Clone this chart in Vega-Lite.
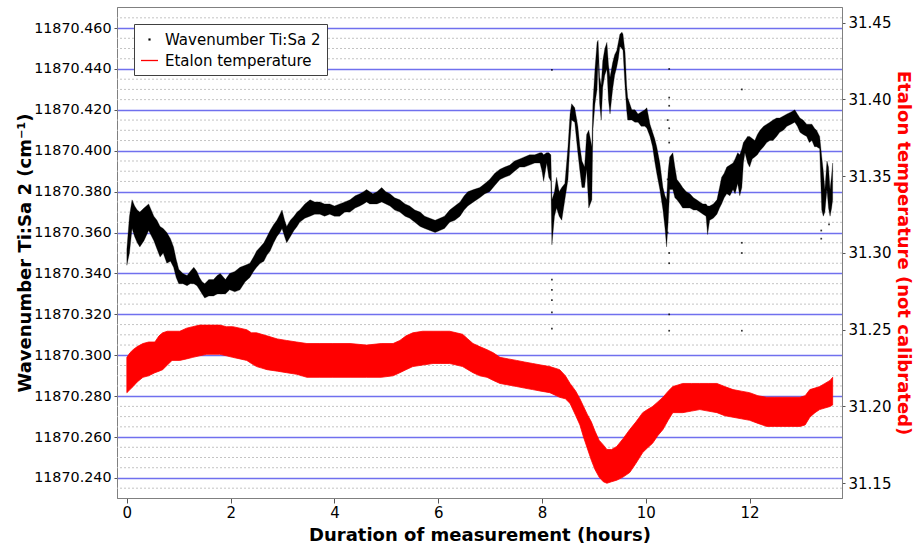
{
"$schema": "https://vega.github.io/schema/vega-lite/v6.json",
"width": 725, "height": 491,
"autosize": {"type": "none"},
"padding": {"left": 117, "top": 7, "right": 72, "bottom": 49},
"background": "white",
"config": {
  "font": "DejaVu Sans",
  "view": {"stroke": "#808080", "strokeWidth": 1},
  "axis": {"labelFontSize": 15, "labelColor": "#000000", "titleFontSize": 18, "titleFontWeight": "bold", "titleColor": "#000000", "domainColor": "#808080", "tickColor": "#555555", "grid": false}
},
"datasets": {
  "grid": [
    {"w": 11870.235}, {"w": 11870.245}, {"w": 11870.250}, {"w": 11870.255}, {"w": 11870.265}, {"w": 11870.270}, {"w": 11870.275},
    {"w": 11870.285}, {"w": 11870.290}, {"w": 11870.295}, {"w": 11870.305}, {"w": 11870.310}, {"w": 11870.315},
    {"w": 11870.325}, {"w": 11870.330}, {"w": 11870.335}, {"w": 11870.345}, {"w": 11870.350}, {"w": 11870.355},
    {"w": 11870.365}, {"w": 11870.370}, {"w": 11870.375}, {"w": 11870.385}, {"w": 11870.390}, {"w": 11870.395},
    {"w": 11870.405}, {"w": 11870.410}, {"w": 11870.415}, {"w": 11870.425}, {"w": 11870.430}, {"w": 11870.435},
    {"w": 11870.445}, {"w": 11870.450}, {"w": 11870.455}, {"w": 11870.465}
  ],
  "black": [
    {"t":0.00,"w":11870.344,"w2":11870.352},{"t":0.05,"w":11870.350,"w2":11870.368},{"t":0.10,"w":11870.362,"w2":11870.376},
    {"t":0.15,"w":11870.358,"w2":11870.373},{"t":0.20,"w":11870.355,"w2":11870.371},{"t":0.25,"w":11870.353,"w2":11870.370},
    {"t":0.33,"w":11870.356,"w2":11870.372},{"t":0.42,"w":11870.361,"w2":11870.374},{"t":0.52,"w":11870.356,"w2":11870.368},
    {"t":0.58,"w":11870.352,"w2":11870.366},{"t":0.64,"w":11870.348,"w2":11870.363},{"t":0.70,"w":11870.350,"w2":11870.362},
    {"t":0.77,"w":11870.345,"w2":11870.360},{"t":0.84,"w":11870.346,"w2":11870.357},{"t":0.90,"w":11870.343,"w2":11870.353},
    {"t":0.95,"w":11870.338,"w2":11870.347},{"t":1.00,"w":11870.335,"w2":11870.342},{"t":1.08,"w":11870.335,"w2":11870.340},
    {"t":1.16,"w":11870.334,"w2":11870.339},{"t":1.22,"w":11870.335,"w2":11870.341},{"t":1.29,"w":11870.335,"w2":11870.343},
    {"t":1.35,"w":11870.334,"w2":11870.341},{"t":1.40,"w":11870.332,"w2":11870.338},{"t":1.45,"w":11870.330,"w2":11870.336},
    {"t":1.50,"w":11870.328,"w2":11870.335},{"t":1.58,"w":11870.329,"w2":11870.337},{"t":1.67,"w":11870.329,"w2":11870.337},
    {"t":1.74,"w":11870.330,"w2":11870.339},{"t":1.80,"w":11870.330,"w2":11870.340},{"t":1.90,"w":11870.330,"w2":11870.337},
    {"t":1.98,"w":11870.332,"w2":11870.340},{"t":2.08,"w":11870.331,"w2":11870.341},{"t":2.18,"w":11870.332,"w2":11870.343},
    {"t":2.28,"w":11870.336,"w2":11870.344},{"t":2.37,"w":11870.338,"w2":11870.345},{"t":2.44,"w":11870.341,"w2":11870.348},
    {"t":2.50,"w":11870.343,"w2":11870.351},{"t":2.57,"w":11870.345,"w2":11870.353},{"t":2.64,"w":11870.346,"w2":11870.355},
    {"t":2.70,"w":11870.349,"w2":11870.358},{"t":2.76,"w":11870.351,"w2":11870.361},{"t":2.83,"w":11870.355,"w2":11870.364},
    {"t":2.89,"w":11870.358,"w2":11870.366},{"t":2.95,"w":11870.360,"w2":11870.369},{"t":2.99,"w":11870.362,"w2":11870.371},
    {"t":3.04,"w":11870.358,"w2":11870.366},{"t":3.08,"w":11870.355,"w2":11870.363},{"t":3.15,"w":11870.358,"w2":11870.366},
    {"t":3.22,"w":11870.361,"w2":11870.368},{"t":3.28,"w":11870.363,"w2":11870.370},{"t":3.33,"w":11870.365,"w2":11870.371},
    {"t":3.43,"w":11870.367,"w2":11870.374},{"t":3.53,"w":11870.368,"w2":11870.376},{"t":3.62,"w":11870.369,"w2":11870.375},
    {"t":3.72,"w":11870.369,"w2":11870.375},{"t":3.81,"w":11870.368,"w2":11870.374},{"t":3.91,"w":11870.369,"w2":11870.374},
    {"t":4.00,"w":11870.368,"w2":11870.373},{"t":4.10,"w":11870.368,"w2":11870.374},{"t":4.20,"w":11870.370,"w2":11870.375},
    {"t":4.30,"w":11870.370,"w2":11870.376},{"t":4.40,"w":11870.372,"w2":11870.378},{"t":4.49,"w":11870.373,"w2":11870.379},
    {"t":4.56,"w":11870.374,"w2":11870.380},{"t":4.62,"w":11870.375,"w2":11870.381},{"t":4.68,"w":11870.374,"w2":11870.380},
    {"t":4.74,"w":11870.374,"w2":11870.379},{"t":4.82,"w":11870.374,"w2":11870.380},{"t":4.91,"w":11870.375,"w2":11870.382},
    {"t":4.99,"w":11870.374,"w2":11870.380},{"t":5.07,"w":11870.373,"w2":11870.379},{"t":5.16,"w":11870.371,"w2":11870.377},
    {"t":5.26,"w":11870.370,"w2":11870.376},{"t":5.36,"w":11870.368,"w2":11870.374},{"t":5.45,"w":11870.367,"w2":11870.373},
    {"t":5.55,"w":11870.365,"w2":11870.371},{"t":5.65,"w":11870.363,"w2":11870.370},{"t":5.74,"w":11870.362,"w2":11870.368},
    {"t":5.84,"w":11870.361,"w2":11870.367},{"t":5.94,"w":11870.360,"w2":11870.366},{"t":6.03,"w":11870.361,"w2":11870.367},
    {"t":6.12,"w":11870.362,"w2":11870.368},{"t":6.22,"w":11870.365,"w2":11870.371},{"t":6.32,"w":11870.366,"w2":11870.373},
    {"t":6.42,"w":11870.368,"w2":11870.375},{"t":6.50,"w":11870.371,"w2":11870.378},{"t":6.57,"w":11870.373,"w2":11870.380},
    {"t":6.68,"w":11870.375,"w2":11870.381},{"t":6.80,"w":11870.377,"w2":11870.382},{"t":6.90,"w":11870.379,"w2":11870.384},
    {"t":6.99,"w":11870.380,"w2":11870.386},{"t":7.09,"w":11870.383,"w2":11870.389},{"t":7.19,"w":11870.386,"w2":11870.391},
    {"t":7.28,"w":11870.387,"w2":11870.392},{"t":7.38,"w":11870.388,"w2":11870.393},{"t":7.47,"w":11870.390,"w2":11870.395},
    {"t":7.57,"w":11870.392,"w2":11870.396},{"t":7.66,"w":11870.392,"w2":11870.397},{"t":7.76,"w":11870.393,"w2":11870.398},
    {"t":7.86,"w":11870.394,"w2":11870.398},{"t":7.96,"w":11870.394,"w2":11870.399},{"t":8.00,"w":11870.390,"w2":11870.399},
    {"t":8.03,"w":11870.385,"w2":11870.398},{"t":8.09,"w":11870.394,"w2":11870.399},{"t":8.13,"w":11870.387,"w2":11870.399},
    {"t":8.17,"w":11870.385,"w2":11870.398},{"t":8.19,"w":11870.354,"w2":11870.376},{"t":8.24,"w":11870.368,"w2":11870.380},
    {"t":8.28,"w":11870.372,"w2":11870.387},{"t":8.33,"w":11870.368,"w2":11870.380},{"t":8.38,"w":11870.366,"w2":11870.382},
    {"t":8.44,"w":11870.376,"w2":11870.384},{"t":8.50,"w":11870.386,"w2":11870.402},{"t":8.54,"w":11870.405,"w2":11870.418},
    {"t":8.57,"w":11870.415,"w2":11870.423},{"t":8.63,"w":11870.414,"w2":11870.421},{"t":8.69,"w":11870.399,"w2":11870.412},
    {"t":8.73,"w":11870.390,"w2":11870.402},{"t":8.77,"w":11870.382,"w2":11870.395},{"t":8.82,"w":11870.382,"w2":11870.392},
    {"t":8.86,"w":11870.391,"w2":11870.408},{"t":8.90,"w":11870.372,"w2":11870.410},{"t":8.96,"w":11870.376,"w2":11870.402},
    {"t":8.98,"w":11870.410,"w2":11870.423},{"t":9.02,"w":11870.423,"w2":11870.440},{"t":9.06,"w":11870.430,"w2":11870.453},
    {"t":9.08,"w":11870.444,"w2":11870.454},{"t":9.11,"w":11870.423,"w2":11870.436},{"t":9.14,"w":11870.415,"w2":11870.432},
    {"t":9.17,"w":11870.431,"w2":11870.444},{"t":9.21,"w":11870.437,"w2":11870.450},{"t":9.25,"w":11870.440,"w2":11870.453},
    {"t":9.28,"w":11870.425,"w2":11870.442},{"t":9.31,"w":11870.418,"w2":11870.436},{"t":9.36,"w":11870.430,"w2":11870.443},
    {"t":9.40,"w":11870.437,"w2":11870.447},{"t":9.44,"w":11870.441,"w2":11870.449},{"t":9.47,"w":11870.445,"w2":11870.453},
    {"t":9.50,"w":11870.451,"w2":11870.457},{"t":9.54,"w":11870.450,"w2":11870.458},{"t":9.56,"w":11870.449,"w2":11870.457},
    {"t":9.60,"w":11870.431,"w2":11870.448},{"t":9.63,"w":11870.420,"w2":11870.432},{"t":9.65,"w":11870.415,"w2":11870.426},
    {"t":9.73,"w":11870.415,"w2":11870.420},{"t":9.79,"w":11870.414,"w2":11870.420},{"t":9.85,"w":11870.414,"w2":11870.418},
    {"t":9.91,"w":11870.412,"w2":11870.419},{"t":9.98,"w":11870.412,"w2":11870.420},{"t":10.02,"w":11870.411,"w2":11870.421},
    {"t":10.08,"w":11870.407,"w2":11870.413},{"t":10.13,"w":11870.402,"w2":11870.409},{"t":10.17,"w":11870.395,"w2":11870.406},
    {"t":10.21,"w":11870.389,"w2":11870.402},{"t":10.27,"w":11870.381,"w2":11870.394},{"t":10.33,"w":11870.371,"w2":11870.382},
    {"t":10.37,"w":11870.362,"w2":11870.378},{"t":10.40,"w":11870.353,"w2":11870.376},{"t":10.43,"w":11870.365,"w2":11870.390},
    {"t":10.46,"w":11870.381,"w2":11870.397},{"t":10.52,"w":11870.381,"w2":11870.399},{"t":10.56,"w":11870.377,"w2":11870.392},
    {"t":10.60,"w":11870.376,"w2":11870.386},{"t":10.66,"w":11870.374,"w2":11870.384},{"t":10.71,"w":11870.372,"w2":11870.382},
    {"t":10.78,"w":11870.372,"w2":11870.380},{"t":10.85,"w":11870.372,"w2":11870.379},{"t":10.92,"w":11870.371,"w2":11870.377},
    {"t":10.98,"w":11870.371,"w2":11870.376},{"t":11.04,"w":11870.370,"w2":11870.375},{"t":11.10,"w":11870.369,"w2":11870.374},
    {"t":11.16,"w":11870.368,"w2":11870.374},{"t":11.19,"w":11870.359,"w2":11870.373},{"t":11.23,"w":11870.366,"w2":11870.373},
    {"t":11.30,"w":11870.367,"w2":11870.374},{"t":11.37,"w":11870.369,"w2":11870.376},{"t":11.42,"w":11870.372,"w2":11870.382},
    {"t":11.46,"w":11870.374,"w2":11870.387},{"t":11.51,"w":11870.377,"w2":11870.389},{"t":11.56,"w":11870.379,"w2":11870.392},
    {"t":11.62,"w":11870.378,"w2":11870.393},{"t":11.68,"w":11870.381,"w2":11870.394},{"t":11.72,"w":11870.379,"w2":11870.396},
    {"t":11.77,"w":11870.384,"w2":11870.399},{"t":11.81,"w":11870.378,"w2":11870.398},{"t":11.85,"w":11870.382,"w2":11870.401},
    {"t":11.88,"w":11870.394,"w2":11870.404},{"t":11.91,"w":11870.399,"w2":11870.405},{"t":11.96,"w":11870.394,"w2":11870.407},
    {"t":12.00,"w":11870.392,"w2":11870.407},{"t":12.05,"w":11870.396,"w2":11870.406},{"t":12.10,"w":11870.397,"w2":11870.405},
    {"t":12.15,"w":11870.398,"w2":11870.408},{"t":12.20,"w":11870.400,"w2":11870.410},{"t":12.27,"w":11870.402,"w2":11870.412},
    {"t":12.33,"w":11870.404,"w2":11870.413},{"t":12.39,"w":11870.405,"w2":11870.414},{"t":12.45,"w":11870.405,"w2":11870.415},
    {"t":12.52,"w":11870.407,"w2":11870.416},{"t":12.58,"w":11870.409,"w2":11870.416},{"t":12.65,"w":11870.410,"w2":11870.417},
    {"t":12.72,"w":11870.412,"w2":11870.418},{"t":12.80,"w":11870.413,"w2":11870.419},{"t":12.87,"w":11870.414,"w2":11870.420},
    {"t":12.92,"w":11870.412,"w2":11870.418},{"t":12.97,"w":11870.409,"w2":11870.416},{"t":13.03,"w":11870.408,"w2":11870.415},
    {"t":13.10,"w":11870.407,"w2":11870.413},{"t":13.15,"w":11870.404,"w2":11870.413},{"t":13.20,"w":11870.405,"w2":11870.413},
    {"t":13.25,"w":11870.402,"w2":11870.411},{"t":13.29,"w":11870.402,"w2":11870.410},{"t":13.35,"w":11870.401,"w2":11870.407},
    {"t":13.39,"w":11870.371,"w2":11870.397},{"t":13.42,"w":11870.368,"w2":11870.390},{"t":13.45,"w":11870.370,"w2":11870.381},
    {"t":13.49,"w":11870.381,"w2":11870.395},{"t":13.52,"w":11870.372,"w2":11870.392},{"t":13.55,"w":11870.368,"w2":11870.381},
    {"t":13.58,"w":11870.372,"w2":11870.388},{"t":13.60,"w":11870.376,"w2":11870.394}
  ],
  "outliers": [
    {"t":8.19,"w":11870.4395},{"t":8.19,"w":11870.337},{"t":8.19,"w":11870.332},{"t":8.19,"w":11870.327},{"t":8.19,"w":11870.321},{"t":8.19,"w":11870.313},
    {"t":10.45,"w":11870.440},{"t":10.45,"w":11870.426},{"t":10.45,"w":11870.422},{"t":10.45,"w":11870.411},{"t":10.45,"w":11870.404},{"t":10.45,"w":11870.350},{"t":10.45,"w":11870.345},{"t":10.45,"w":11870.320},{"t":10.45,"w":11870.312},
    {"t":10.42,"w":11870.415},{"t":10.42,"w":11870.386},{"t":10.42,"w":11870.360},
    {"t":11.85,"w":11870.430},{"t":11.85,"w":11870.355},{"t":11.85,"w":11870.350},{"t":11.85,"w":11870.312},
    {"t":13.38,"w":11870.361},{"t":13.38,"w":11870.357},{"t":13.53,"w":11870.364}
  ],
  "red": [
    {"t":0.00,"r":31.209,"r2":31.232},{"t":0.06,"r":31.211,"r2":31.235},{"t":0.12,"r":31.213,"r2":31.237},{"t":0.20,"r":31.216,"r2":31.239},
    {"t":0.31,"r":31.219,"r2":31.241},{"t":0.42,"r":31.220,"r2":31.242},{"t":0.54,"r":31.222,"r2":31.242},{"t":0.62,"r":31.223,"r2":31.246},
    {"t":0.69,"r":31.224,"r2":31.248},{"t":0.78,"r":31.227,"r2":31.249},{"t":0.87,"r":31.230,"r2":31.249},{"t":1.02,"r":31.230,"r2":31.249},
    {"t":1.15,"r":31.231,"r2":31.251},{"t":1.27,"r":31.232,"r2":31.252},{"t":1.40,"r":31.233,"r2":31.253},{"t":1.54,"r":31.234,"r2":31.253},
    {"t":1.66,"r":31.234,"r2":31.253},{"t":1.79,"r":31.234,"r2":31.253},{"t":1.92,"r":31.233,"r2":31.252},{"t":2.04,"r":31.232,"r2":31.252},
    {"t":2.18,"r":31.231,"r2":31.251},{"t":2.31,"r":31.230,"r2":31.250},{"t":2.40,"r":31.228,"r2":31.248},{"t":2.50,"r":31.226,"r2":31.248},
    {"t":2.60,"r":31.225,"r2":31.247},{"t":2.70,"r":31.224,"r2":31.246},{"t":2.90,"r":31.223,"r2":31.244},{"t":3.08,"r":31.222,"r2":31.243},
    {"t":3.27,"r":31.221,"r2":31.242},{"t":3.47,"r":31.219,"r2":31.241},{"t":3.72,"r":31.219,"r2":31.241},{"t":3.97,"r":31.219,"r2":31.241},
    {"t":4.30,"r":31.219,"r2":31.241},{"t":4.62,"r":31.219,"r2":31.240},{"t":4.90,"r":31.219,"r2":31.241},{"t":5.13,"r":31.220,"r2":31.241},
    {"t":5.26,"r":31.222,"r2":31.243},{"t":5.38,"r":31.224,"r2":31.246},{"t":5.51,"r":31.226,"r2":31.248},{"t":5.70,"r":31.227,"r2":31.249},
    {"t":5.90,"r":31.228,"r2":31.249},{"t":6.05,"r":31.228,"r2":31.249},{"t":6.22,"r":31.228,"r2":31.249},{"t":6.35,"r":31.227,"r2":31.248},
    {"t":6.47,"r":31.226,"r2":31.247},{"t":6.57,"r":31.224,"r2":31.244},{"t":6.67,"r":31.222,"r2":31.241},{"t":6.80,"r":31.220,"r2":31.239},
    {"t":6.94,"r":31.219,"r2":31.237},{"t":7.06,"r":31.217,"r2":31.235},{"t":7.19,"r":31.215,"r2":31.232},{"t":7.35,"r":31.214,"r2":31.231},
    {"t":7.51,"r":31.213,"r2":31.230},{"t":7.66,"r":31.212,"r2":31.229},{"t":7.82,"r":31.211,"r2":31.228},{"t":7.98,"r":31.210,"r2":31.227},
    {"t":8.15,"r":31.209,"r2":31.226},{"t":8.34,"r":31.206,"r2":31.224},{"t":8.45,"r":31.205,"r2":31.220},{"t":8.54,"r":31.202,"r2":31.215},
    {"t":8.65,"r":31.194,"r2":31.210},{"t":8.73,"r":31.188,"r2":31.205},{"t":8.80,"r":31.180,"r2":31.200},{"t":8.87,"r":31.173,"r2":31.195},
    {"t":8.95,"r":31.165,"r2":31.190},{"t":9.02,"r":31.159,"r2":31.184},{"t":9.10,"r":31.154,"r2":31.178},{"t":9.18,"r":31.151,"r2":31.175},
    {"t":9.25,"r":31.150,"r2":31.172},{"t":9.34,"r":31.151,"r2":31.172},{"t":9.44,"r":31.152,"r2":31.174},{"t":9.56,"r":31.154,"r2":31.179},
    {"t":9.69,"r":31.157,"r2":31.185},{"t":9.81,"r":31.163,"r2":31.190},{"t":9.94,"r":31.170,"r2":31.196},{"t":10.03,"r":31.173,"r2":31.198},
    {"t":10.13,"r":31.176,"r2":31.200},{"t":10.23,"r":31.181,"r2":31.203},{"t":10.33,"r":31.185,"r2":31.206},{"t":10.43,"r":31.191,"r2":31.210},
    {"t":10.52,"r":31.196,"r2":31.213},{"t":10.62,"r":31.196,"r2":31.214},{"t":10.71,"r":31.196,"r2":31.215},{"t":10.88,"r":31.197,"r2":31.215},
    {"t":11.04,"r":31.198,"r2":31.215},{"t":11.20,"r":31.197,"r2":31.215},{"t":11.37,"r":31.196,"r2":31.215},{"t":11.52,"r":31.194,"r2":31.213},
    {"t":11.68,"r":31.193,"r2":31.211},{"t":11.84,"r":31.192,"r2":31.210},{"t":12.00,"r":31.191,"r2":31.209},{"t":12.16,"r":31.189,"r2":31.207},
    {"t":12.33,"r":31.187,"r2":31.206},{"t":12.48,"r":31.187,"r2":31.206},{"t":12.64,"r":31.187,"r2":31.206},{"t":12.80,"r":31.187,"r2":31.206},
    {"t":12.97,"r":31.187,"r2":31.206},{"t":13.07,"r":31.188,"r2":31.207},{"t":13.16,"r":31.193,"r2":31.211},{"t":13.26,"r":31.196,"r2":31.212},
    {"t":13.35,"r":31.198,"r2":31.213},{"t":13.45,"r":31.199,"r2":31.215},{"t":13.55,"r":31.200,"r2":31.217},{"t":13.60,"r":31.201,"r2":31.219}
  ],
  "legend": [
    {"series": "Wavenumber Ti:Sa 2", "t": 0, "w": 11870.3},
    {"series": "Etalon temperature", "t": 0, "w": 11870.3}
  ]
},
"layer": [
  {
    "layer": [
      {
        "data": {"name": "grid"},
        "mark": {"type": "rule", "color": "#c4c4c4", "strokeWidth": 1, "strokeDash": [2, 2]},
        "encoding": {
          "y": {"field": "w", "type": "quantitative",
                "scale": {"domain": [11870.2302, 11870.4703], "nice": false, "zero": false},
                "axis": {"title": "Wavenumber Ti:Sa 2 (cm⁻¹)", "grid": true, "gridColor": "#7070ee", "gridWidth": 1.3,
                         "values": [11870.24, 11870.26, 11870.28, 11870.30, 11870.32, 11870.34, 11870.36, 11870.38, 11870.40, 11870.42, 11870.44, 11870.46],
                         "format": ".3f", "tickSize": 3, "labelPadding": 3, "labelFontSize": 14.3, "titlePadding": -1}}
        }
      },
      {
        "data": {"name": "black"},
        "mark": {"type": "area", "color": "#000000", "stroke": "#000000", "strokeWidth": 0.3},
        "encoding": {
          "x": {"field": "t", "type": "quantitative",
                "scale": {"domain": [-0.19, 13.78], "nice": false, "zero": false},
                "axis": {"title": "Duration of measurement (hours)", "values": [0, 2, 4, 6, 8, 10, 12], "tickSize": 5, "labelPadding": 2, "titlePadding": 6}},
          "y": {"field": "w", "type": "quantitative",
                "scale": {"domain": [11870.2302, 11870.4703], "nice": false, "zero": false},
                "axis": {"title": "Wavenumber Ti:Sa 2 (cm⁻¹)", "grid": true, "gridColor": "#7070ee", "gridWidth": 1.3,
                         "values": [11870.24, 11870.26, 11870.28, 11870.30, 11870.32, 11870.34, 11870.36, 11870.38, 11870.40, 11870.42, 11870.44, 11870.46],
                         "format": ".3f", "tickSize": 3, "labelPadding": 3, "labelFontSize": 14.3, "titlePadding": -1}},
          "y2": {"field": "w2"}
        }
      },
      {
        "data": {"name": "outliers"},
        "mark": {"type": "square", "color": "#000000", "size": 3, "opacity": 0.8},
        "encoding": {
          "x": {"field": "t", "type": "quantitative",
                "scale": {"domain": [-0.19, 13.78], "nice": false, "zero": false},
                "axis": {"title": "Duration of measurement (hours)", "values": [0, 2, 4, 6, 8, 10, 12], "tickSize": 5, "labelPadding": 2, "titlePadding": 6}},
          "y": {"field": "w", "type": "quantitative",
                "scale": {"domain": [11870.2302, 11870.4703], "nice": false, "zero": false},
                "axis": {"title": "Wavenumber Ti:Sa 2 (cm⁻¹)", "grid": true, "gridColor": "#7070ee", "gridWidth": 1.3,
                         "values": [11870.24, 11870.26, 11870.28, 11870.30, 11870.32, 11870.34, 11870.36, 11870.38, 11870.40, 11870.42, 11870.44, 11870.46],
                         "format": ".3f", "tickSize": 3, "labelPadding": 3, "labelFontSize": 14.3, "titlePadding": -1}}
        }
      },
      {
        "data": {"name": "legend"},
        "mark": {"type": "point", "filled": false, "opacity": 0},
        "encoding": {
          "x": {"field": "t", "type": "quantitative",
                "scale": {"domain": [-0.19, 13.78], "nice": false, "zero": false},
                "axis": {"title": "Duration of measurement (hours)", "values": [0, 2, 4, 6, 8, 10, 12], "tickSize": 5, "labelPadding": 2, "titlePadding": 6}},
          "y": {"field": "w", "type": "quantitative",
                "scale": {"domain": [11870.2302, 11870.4703], "nice": false, "zero": false},
                "axis": {"title": "Wavenumber Ti:Sa 2 (cm⁻¹)", "grid": true, "gridColor": "#7070ee", "gridWidth": 1.3,
                         "values": [11870.24, 11870.26, 11870.28, 11870.30, 11870.32, 11870.34, 11870.36, 11870.38, 11870.40, 11870.42, 11870.44, 11870.46],
                         "format": ".3f", "tickSize": 3, "labelPadding": 3, "labelFontSize": 14.3, "titlePadding": -1}},
          "color": {"field": "series", "type": "nominal",
                    "scale": {"domain": ["Wavenumber Ti:Sa 2", "Etalon temperature"], "range": ["#000000", "#ff0000"]},
                    "legend": {"title": null, "orient": "none", "legendX": 17, "legendY": 17, "strokeColor": "#404040", "fillColor": "#ffffff",
                               "padding": 6, "labelFontSize": 15, "labelColor": "#000000", "symbolSize": 289, "symbolStrokeWidth": 1.3,
                               "symbolOpacity": 1, "rowPadding": 3, "labelOffset": 6}},
          "shape": {"field": "series", "type": "nominal",
                    "scale": {"domain": ["Wavenumber Ti:Sa 2", "Etalon temperature"], "range": ["M-0.05,-0.05H0.05V0.05H-0.05Z", "stroke"]},
                    "legend": {"title": null, "orient": "none", "legendX": 17, "legendY": 17}}
        }
      }
    ]
  },
  {
    "data": {"name": "red"},
    "mark": {"type": "area", "color": "#ff0000", "stroke": "#ff0000", "strokeWidth": 0.8},
    "encoding": {
      "x": {"field": "t", "type": "quantitative",
            "scale": {"domain": [-0.19, 13.78], "nice": false, "zero": false},
            "axis": {"title": "Duration of measurement (hours)", "values": [0, 2, 4, 6, 8, 10, 12], "tickSize": 5, "labelPadding": 2, "titlePadding": 6}},
      "y": {"field": "r", "type": "quantitative",
            "scale": {"domain": [31.1404, 31.4602], "nice": false, "zero": false},
            "axis": {"orient": "right", "title": "Etalon temperature (not calibrated)", "titleColor": "#ff0000",
                     "values": [31.15, 31.20, 31.25, 31.30, 31.35, 31.40, 31.45], "format": ".2f", "tickSize": 3, "labelPadding": 3, "titlePadding": 3}},
      "y2": {"field": "r2"}
    }
  }
],
"resolve": {"scale": {"y": "independent"}}
}
